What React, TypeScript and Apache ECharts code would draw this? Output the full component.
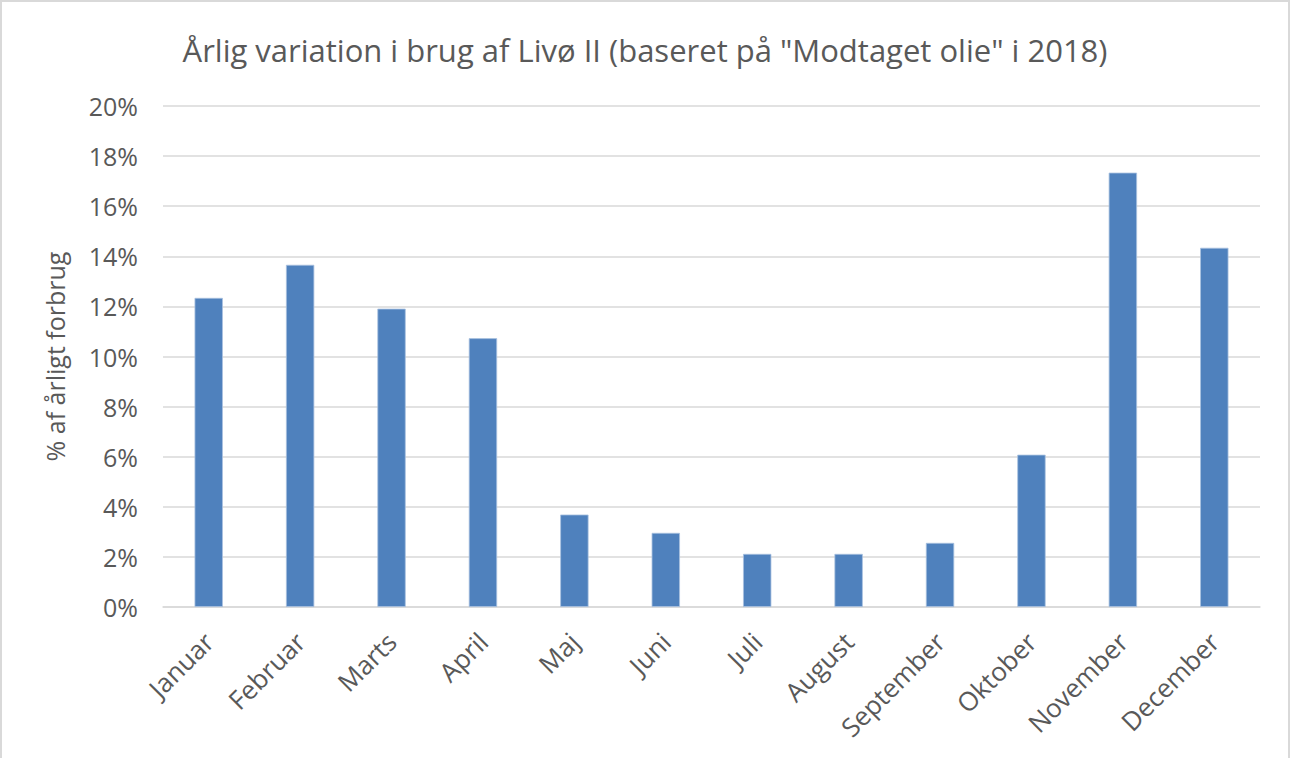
import React, { useEffect, useRef } from "react";
import * as echarts from "echarts";

const months = ["Januar", "Februar", "Marts", "April", "Maj", "Juni", "Juli", "August", "September", "Oktober", "November", "December"];
const shares = [12.34, 13.66, 11.91, 10.73, 3.69, 2.96, 2.12, 2.12, 2.56, 6.08, 17.34, 14.34];
const titleText = 'Årlig variation i brug af Livø II (baseret på "Modtaget olie" i 2018)';
const yAxisTitle = "% af årligt forbrug";

export default function App() {
  const ref = useRef<HTMLDivElement>(null);
  useEffect(() => {
    const chart = echarts.init(ref.current!, null, { renderer: "svg" });
    const font = "'Open Sans', sans-serif";
    chart.setOption({
      animation: false,
      backgroundColor: "#ffffff",
      textStyle: { fontFamily: font },
      title: {
        text: titleText,
        left: "center",
        top: 27,
        textStyle: { fontFamily: font, fontSize: 31, fontWeight: "normal", color: "#595959" },
      },
      grid: { left: 161, right: 28, top: 104, bottom: 151, containLabel: false },
      xAxis: {
        type: "category",
        data: months,
        axisLine: { lineStyle: { color: "#d9d9d9", width: 1.5 } },
        axisTick: { show: false },
        axisLabel: { rotate: 45, fontSize: 26, color: "#595959", margin: 30, fontFamily: font, interval: 0 },
      },
      yAxis: {
        type: "value",
        min: 0,
        max: 20,
        interval: 2,
        name: yAxisTitle,
        nameLocation: "middle",
        nameGap: 96,
        nameTextStyle: { fontSize: 25, color: "#595959", fontFamily: font },
        axisLine: { show: false },
        axisTick: { show: false },
        splitLine: { lineStyle: { color: "#d9d9d9", width: 1.5 } },
        axisLabel: { formatter: "{value}%", fontSize: 25, color: "#595959", margin: 25, fontFamily: font },
      },
      series: [
        {
          type: "bar",
          data: shares,
          barWidth: "31%",
          itemStyle: { color: "#4f81bd", borderColor: "#a9c1e0", borderWidth: 0.8 },
        },
      ],
    });
    return () => chart.dispose();
  }, []);
  return (
    <div style={{ position: "absolute", left: 0, top: 0, width: 1290, height: 758, boxSizing: "border-box", borderLeft: "2px solid #d9d9d9", borderTop: "2px solid #d9d9d9", borderRight: "2px solid #d9d9d9" }}>
      <div ref={ref} style={{ width: 1286, height: 756 }} />
    </div>
  );
}
